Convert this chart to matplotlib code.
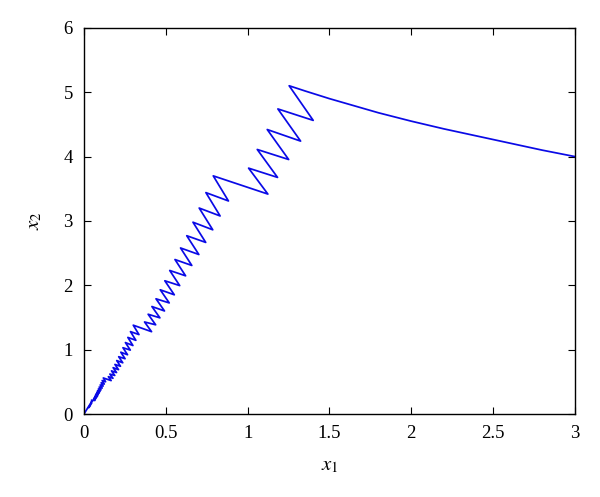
import matplotlib
matplotlib.use("Agg")
import matplotlib.pyplot as plt

plt.rcParams['font.family'] = ['Liberation Serif', 'DejaVu Serif']
plt.rcParams['mathtext.fontset'] = 'stix'

# tops of the zigzag (right after each jump), in order along the path
peak_x = [0.024, 0.027, 0.030, 0.034, 0.038, 0.042, 0.046,
          0.059, 0.062, 0.066, 0.070, 0.074, 0.078, 0.083, 0.088, 0.093, 0.099, 0.105, 0.111, 0.118,
          0.149, 0.158, 0.168, 0.178, 0.189, 0.200, 0.212, 0.225, 0.238, 0.253, 0.268, 0.284, 0.301,
          0.370, 0.392, 0.415, 0.440, 0.466, 0.494, 0.524, 0.556, 0.590, 0.628, 0.666, 0.704, 0.745, 0.790,
          1.006, 1.059, 1.120, 1.185, 1.254]
peak_y = [0.100, 0.112, 0.126, 0.143, 0.162, 0.186, 0.215,
          0.235, 0.253, 0.272, 0.292, 0.314, 0.338, 0.363, 0.390, 0.419, 0.451, 0.485, 0.520, 0.560,
          0.58, 0.62, 0.67, 0.72, 0.77, 0.83, 0.89, 0.96, 1.03, 1.11, 1.19, 1.28, 1.38,
          1.43, 1.55, 1.67, 1.79, 1.93, 2.07, 2.23, 2.40, 2.58, 2.77, 2.98, 3.20, 3.44, 3.70,
          3.82, 4.11, 4.42, 4.74, 5.10]

# bottoms of the zigzag (right before each jump)
trough_x = [0.030, 0.034, 0.038, 0.042, 0.047, 0.051, 0.066,
            0.069, 0.074, 0.078, 0.083, 0.087, 0.093, 0.098, 0.104, 0.111, 0.117, 0.124, 0.132, 0.166,
            0.177, 0.188, 0.199, 0.211, 0.223, 0.237, 0.251, 0.266, 0.283, 0.299, 0.317, 0.336, 0.413,
            0.438, 0.464, 0.492, 0.521, 0.552, 0.585, 0.621, 0.659, 0.702, 0.744, 0.787, 0.832, 0.883, 1.124,
            1.183, 1.251, 1.324, 1.401]
trough_y = [0.100, 0.113, 0.128, 0.145, 0.166, 0.192, 0.210,
            0.226, 0.243, 0.261, 0.281, 0.302, 0.325, 0.349, 0.375, 0.403, 0.434, 0.465, 0.501, 0.519,
            0.555, 0.599, 0.644, 0.689, 0.742, 0.796, 0.859, 0.921, 0.993, 1.064, 1.145, 1.234, 1.279,
            1.386, 1.494, 1.601, 1.726, 1.852, 1.995, 2.147, 2.308, 2.478, 2.666, 2.862, 3.077, 3.310, 3.417,
            3.676, 3.954, 4.240, 4.562]

# free motion after the last jump
tail_x = [1.35, 1.5, 1.65, 1.8, 2.0, 2.2, 2.4, 2.6, 2.8, 3.0]
tail_y = [5.02, 4.90, 4.79, 4.68, 4.55, 4.43, 4.32, 4.21, 4.10, 4.0]

xs = [0.0]
ys = [0.0]
for i in range(len(peak_x)):
    xs.append(peak_x[i])
    ys.append(peak_y[i])
    if i < len(trough_x):
        xs.append(trough_x[i])
        ys.append(trough_y[i])
xs += tail_x
ys += tail_y

fig = plt.figure(figsize=(6, 4.97), dpi=100)
ax = fig.add_axes([0.14, 0.167, 0.818, 0.777])
ax.plot(xs, ys, color='#0a0ae6', lw=1.25)

ax.set_xlim(0, 3)
ax.set_ylim(0, 6)
ax.set_xticks([0, 0.5, 1, 1.5, 2, 2.5, 3])
ax.set_xticklabels(['0', '0.5', '1', '1.5', '2', '2.5', '3'])
ax.set_yticks(range(7))
ax.tick_params(direction='in', top=True, right=True, length=5, labelsize=13.5, pad=8)
for s in ax.spines.values():
    s.set_linewidth(1.0)

ax.set_xlabel(r'$x_1$', fontsize=15, labelpad=10)
ax.set_ylabel(r'$x_2$', fontsize=15, labelpad=14)

fig.savefig('out.png', dpi=100)
